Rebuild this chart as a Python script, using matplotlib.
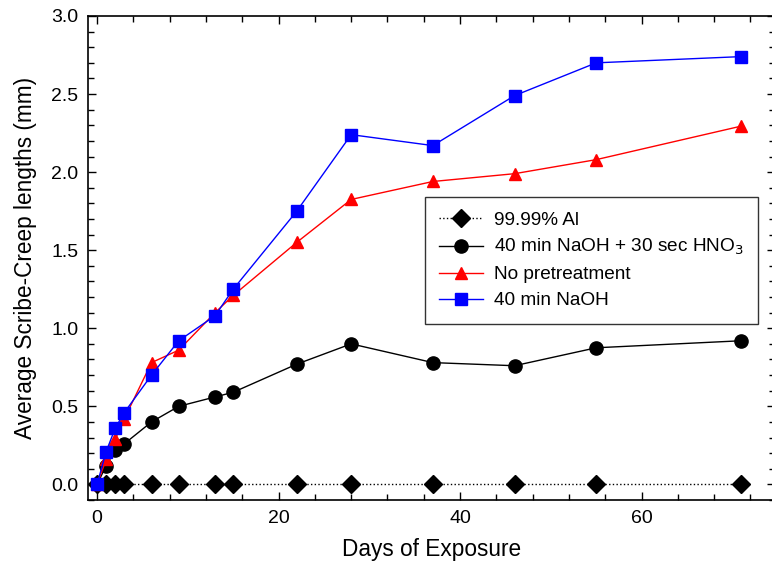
import numpy as np
import matplotlib
matplotlib.use('Agg')
import matplotlib.pyplot as plt
from matplotlib.ticker import MultipleLocator

plt.rcParams['font.family'] = ['Liberation Sans', 'DejaVu Sans']

dias = [0, 1, 2, 3, 6, 9, 13, 15, 22, 28, 37, 46, 55, 71]
al_puro = [0, 0, 0, 0, 0, 0, 0, 0, 0, 0, 0, 0, 0, 0]
naoh_hno3 = [0, 0.12, 0.22, 0.26, 0.40, 0.50, 0.56, 0.59, 0.77, 0.90, 0.78, 0.76, 0.875, 0.92]
sem_pre = [0, 0.16, 0.29, 0.42, 0.78, 0.86, 1.10, 1.21, 1.55, 1.825, 1.94, 1.99, 2.08, 2.295]
naoh = [0, 0.21, 0.36, 0.46, 0.70, 0.92, 1.08, 1.25, 1.75, 2.24, 2.17, 2.49, 2.70, 2.74]

nomes = ['99.99% Al', '40 min NaOH + 30 sec HNO$_3$', 'No pretreatment', '40 min NaOH']

fig = plt.figure(figsize=(7.72, 5.77), dpi=100)
ax = fig.add_axes([88/772, 1 - 500/577, (775 - 88)/772, 484/577])

ax.plot(dias, al_puro, 'k:', marker='D', ms=9.5, lw=1, label=nomes[0])
ax.plot(dias, naoh_hno3, 'k-', marker='o', ms=9.5, lw=1, label=nomes[1])
ax.plot(dias, sem_pre, '-', color='#ff0000', marker='^', ms=9, lw=1, label=nomes[2])
ax.plot(dias, naoh, '-', color='#0000ff', marker='s', ms=8.5, lw=1, label=nomes[3])

ax.set_xlim(-1, 74.7)
ax.set_ylim(-0.1, 3.0)
ax.xaxis.set_major_locator(MultipleLocator(20))
ax.xaxis.set_minor_locator(MultipleLocator(4))
ax.yaxis.set_major_locator(MultipleLocator(0.5))
ax.yaxis.set_minor_locator(MultipleLocator(0.1))
ax.yaxis.set_major_formatter(matplotlib.ticker.FormatStrFormatter('%.1f'))
ax.tick_params(which='both', direction='in', top=True, right=True, labelsize=14, width=1)
ax.tick_params(which='major', length=6, pad=7)
ax.tick_params(which='minor', length=4)
for s in ax.spines.values():
    s.set_linewidth(1.2)

ax.set_xlabel('Days of Exposure', fontsize=16.3, labelpad=8)
ax.set_ylabel('Average Scribe-Creep lengths (mm)', fontsize=16.3, labelpad=10)

leg = ax.legend(loc='upper left', bbox_to_anchor=(0.49, 0.626), fontsize=13.7,
                fancybox=False, edgecolor='black', handlelength=2.3, handletextpad=0.6,
                borderpad=0.75, labelspacing=0.45, borderaxespad=0)
leg.get_frame().set_linewidth(1)

fig.savefig('out.png', dpi=100)
